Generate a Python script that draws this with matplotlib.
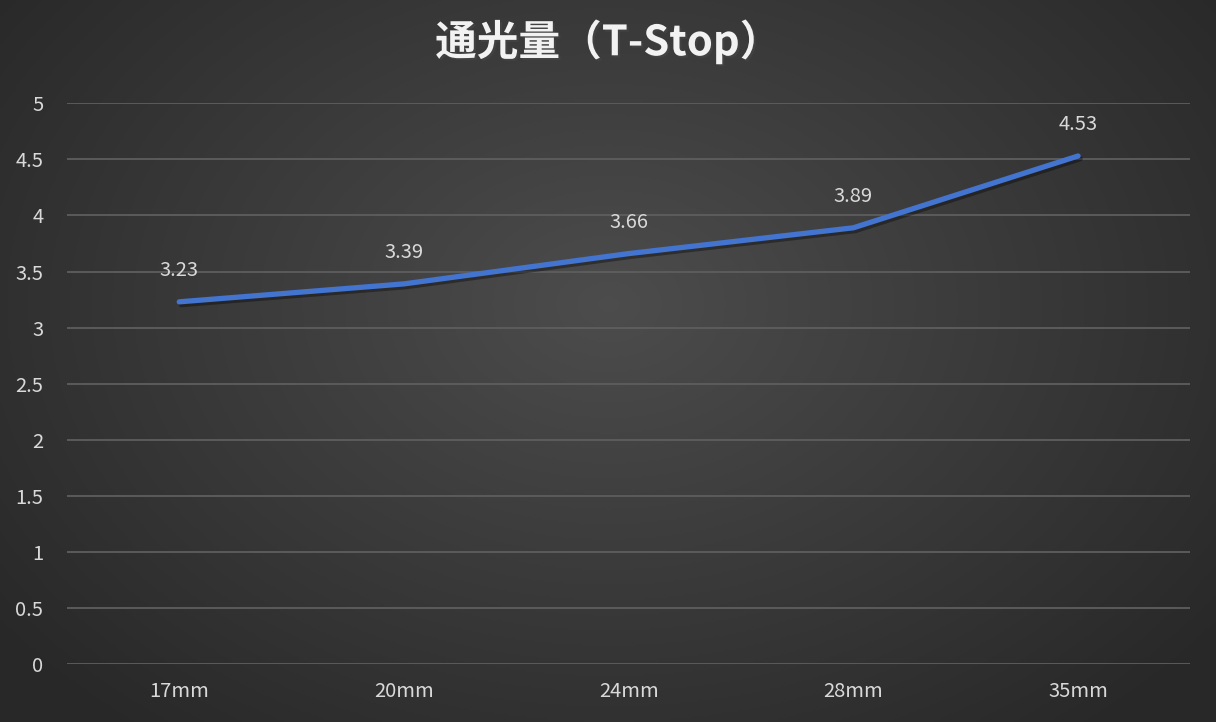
import numpy as np
import matplotlib
matplotlib.use('Agg')
import matplotlib.pyplot as plt
import matplotlib.patheffects as pe

plt.rcParams['font.family'] = ['Noto Sans CJK SC', 'DejaVu Sans']

# donnees
categories = ['17mm', '20mm', '24mm', '28mm', '35mm']
tstop = [3.23, 3.39, 3.66, 3.89, 4.53]
yticks = [0, 0.5, 1, 1.5, 2, 2.5, 3, 3.5, 4, 4.5, 5]
title = '通光量（T-Stop）'

fig = plt.figure(figsize=(12.16, 7.22), dpi=100)

# fond en degrade radial
bg = fig.add_axes([0, 0, 1, 1], zorder=0)
h, w = 361, 608
yy, xx = np.mgrid[0:h, 0:w]
d = np.sqrt(((xx - w * 0.5) / (w * 0.62)) ** 2 + ((yy - h * 0.42) / (h * 0.75)) ** 2)
d = np.clip(d, 0, 1)
val = 0.30 - 0.14 * d
img = np.dstack([val, val, val])
bg.imshow(img, aspect='auto', extent=[0, 1, 0, 1])
bg.axis('off')

ax = fig.add_axes([0.055, 0.080, 0.924, 0.777], zorder=1)
ax.patch.set_alpha(0)
x = np.arange(len(categories))
ax.plot(x, tstop, color='#4374d0', lw=3.8, solid_capstyle='round', zorder=3,
        path_effects=[pe.SimpleLineShadow(offset=(1.5, -2), shadow_color='black', alpha=0.35),
                      pe.Normal()])
for xi, v in zip(x, tstop):
    ax.annotate(f'{v:.2f}', (xi, v), xytext=(0, 15), textcoords='offset points',
                ha='center', va='bottom', color='#d9d9d9', fontsize=14.5)

ax.set_xlim(-0.5, len(categories) - 0.5)
ax.set_ylim(0, 5)
ax.set_yticks(yticks)
ax.set_yticklabels([f'{t:g}' for t in yticks])
ax.set_xticks(x)
ax.set_xticklabels(categories)
ax.grid(axis='y', color='#5e5e5e', lw=1.3)
ax.set_axisbelow(True)
ax.tick_params(length=0, colors='#d9d9d9', labelsize=14.5)
ax.tick_params(axis='y', pad=17)
ax.tick_params(axis='x', pad=12)
for s in ax.spines.values():
    s.set_visible(False)

fig.text(0.5, 0.942, title, ha='center', va='center', color='#f2f2f2',
         fontsize=30, fontweight='bold',
         path_effects=[pe.withSimplePatchShadow(offset=(1.5, -1.5), alpha=0.5)])

plt.savefig('out.png', dpi=100)
